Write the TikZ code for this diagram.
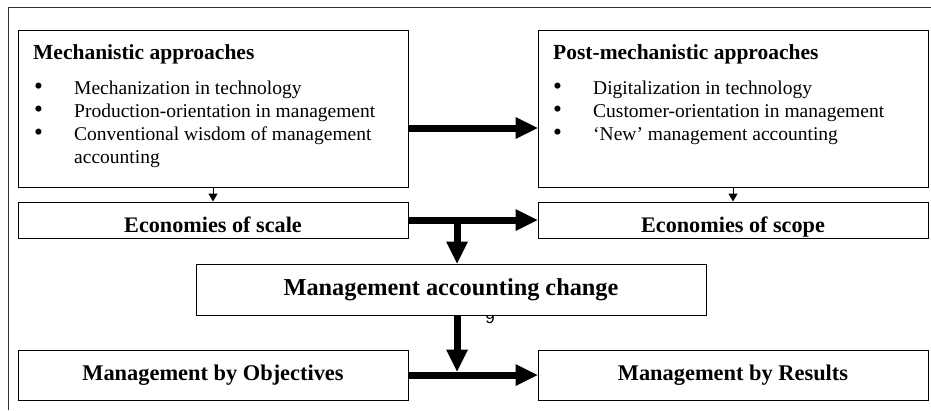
\documentclass[tikz,border=0pt]{standalone}
\usepackage{fontspec}
\setmainfont{Liberation Serif}
\newfontfamily\pagefont{Liberation Sans}
\usetikzlibrary{arrows.meta,positioning}
\newcommand{\listdot}{\scalebox{1.3}{\textbullet}}
\tikzstyle{block} = [rectangle, draw, fill=white, line width=1pt, inner sep=0pt, minimum width=390pt]
\tikzstyle{bigblock} = [block, minimum height=157pt]
\tikzstyle{smallblock} = [block, minimum height=36pt, text height=24pt, text depth=0pt,
    font=\bfseries\fontsize{22.2}{26}\selectfont]
\tikzstyle{midblock} = [block, minimum height=50pt, font=\bfseries\fontsize{22.4}{26}\selectfont]
\tikzstyle{heading} = [inner sep=0pt, anchor=base west, font=\bfseries\fontsize{21.5}{25}\selectfont]
\tikzstyle{list} = [inner sep=0pt, anchor=base west, font=\fontsize{19.5}{23.3}\selectfont]
\tikzstyle{line} = [draw, line width=1pt, -{Triangle[length=8pt,width=9pt]}]
\tikzstyle{bigline} = [draw, line width=7pt, -{Triangle[length=22pt,width=22pt,line width=0pt]}]

\begin{document}
\begin{tikzpicture}[x=1pt, y=-1pt]
	\useasboundingbox (0,0) rectangle (931,410);
	\draw [line width=1pt, black!80] (8,410) -- (8,7) -- (931,7);

		\node [bigblock] (mech) at (213,108.5) {};
		\node [bigblock] (post) at (733,108.5) {};
		\node [heading] (mechhead) at (33,59) {Mechanistic approaches};
		\node [heading] (posthead) at (553,59) {Post-mechanistic approaches};
		\node [list] (mechlist) at (34,94) {\begin{tabular}[t]{@{}p{40pt}@{}l@{}}
			\listdot & Mechanization in technology\\
			\listdot & Production-orientation in management\\
			\listdot & Conventional wisdom of management\\
			& accounting
		\end{tabular}};
		\node [list] (postlist) at (553,94) {\begin{tabular}[t]{@{}p{40pt}@{}l@{}}
			\listdot & Digitalization in technology\\
			\listdot & Customer-orientation in management\\
			\listdot & `New' management accounting
		\end{tabular}};

		\node [smallblock] (scale) at (213,220) {Economies of scale};
		\node [smallblock] (scope) at (733,220) {Economies of scope};

		\node [font=\pagefont\fontsize{17}{17}\selectfont, anchor=base] (pagenum) at (490,323) {9};
		\node [midblock, minimum width=510pt, minimum height=51pt,
			font=\bfseries\fontsize{24.3}{28}\selectfont] (mac) at (451,289.5) {Management accounting change};

		\node [midblock] (mbo) at (213,375) {Management by Objectives};
		\node [midblock] (mbr) at (733,375) {Management by Results};

		\coordinate (fork) at (457,220);
		\coordinate (join) at (457,375);

		\path [line] (mech) -- (scale);
		\path [line] (post) -- (scope);
		\path [bigline] ([yshift=-19.5pt]mech.east) -- ([yshift=-19.5pt]post.west);
		\path [bigline] (scale) -- (scope);
		\path [bigline] (fork) -- (fork |- mac.north);
		\path [bigline, shorten >=3.5pt] (mac.south -| join) -- (join);
		\path [bigline] (mbo) -- (mbr);
	\end{tikzpicture}
\end{document}
